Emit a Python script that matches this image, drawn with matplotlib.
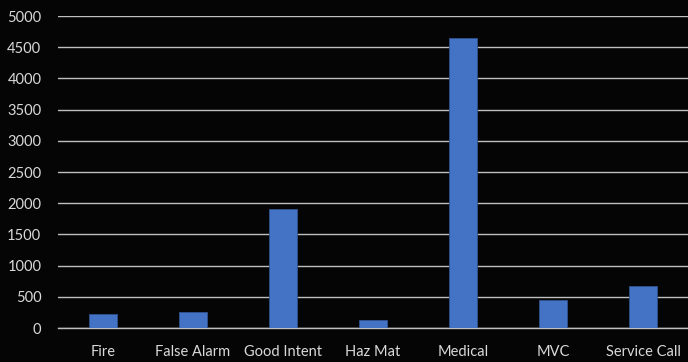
import matplotlib
matplotlib.use("Agg")
import matplotlib.pyplot as plt

categories = ["Fire", "False Alarm", "Good Intent", "Haz Mat", "Medical", "MVC", "Service Call"]
counts = [230, 260, 1900, 130, 4650, 450, 680]
y_ticks = [0, 500, 1000, 1500, 2000, 2500, 3000, 3500, 4000, 4500, 5000]

plt.rcParams['font.family'] = ['Lato', 'DejaVu Sans']

fig = plt.figure(figsize=(6.88, 3.62), dpi=100, facecolor="#050505")
ax = fig.add_axes([58 / 688, 1 - 328 / 362, 630 / 688, 312 / 362])
ax.set_facecolor("#050505")

x = range(len(categories))
ax.bar(x, counts, width=0.31, color="#4472C4", edgecolor="#2F528F", linewidth=0.6, zorder=3)

ax.set_ylim(0, 5000)
ax.set_xlim(-0.5, len(categories) - 0.5)
ax.set_yticks(y_ticks)
ax.set_yticklabels([str(v) for v in y_ticks])
ax.set_xticks(list(x))
ax.set_xticklabels(categories)

ax.yaxis.grid(True, color="#BFBFBF", linewidth=1.0, zorder=0)
ax.xaxis.grid(False)
for side in ["left", "right", "top"]:
    ax.spines[side].set_visible(False)
ax.spines["bottom"].set_color("#BFBFBF")
ax.spines["bottom"].set_linewidth(1.0)

ax.tick_params(axis="both", length=0, colors="#D9D9D9", labelsize=10.5)
ax.tick_params(axis="y", pad=12)
ax.tick_params(axis="x", pad=12)

fig.savefig("out.png", dpi=100, facecolor="#050505")
